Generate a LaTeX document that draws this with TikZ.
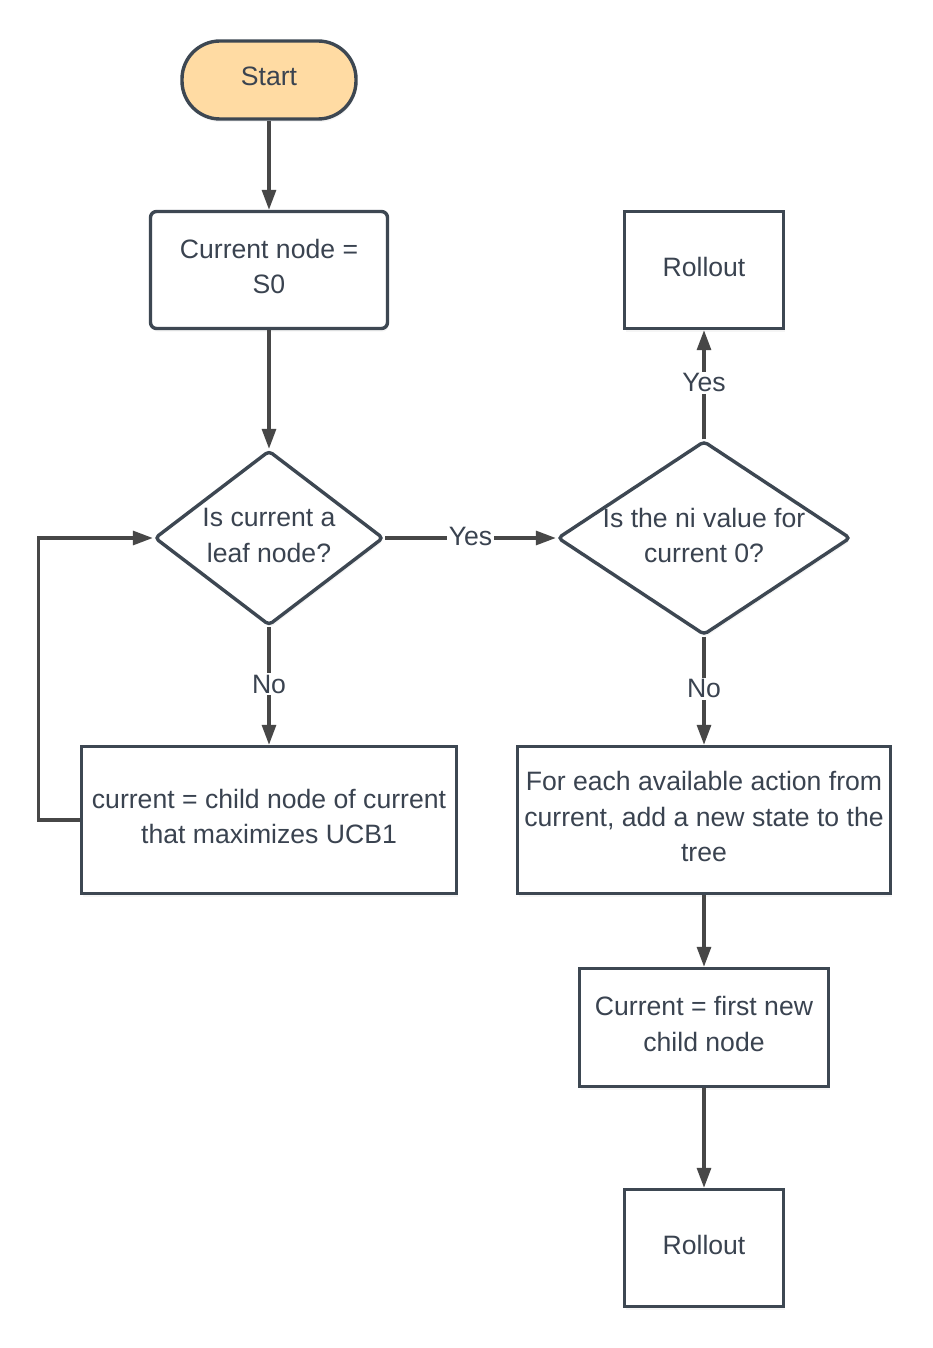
\documentclass[tikz,border=0pt]{standalone}
\usepackage{fontspec}
\setmainfont{Liberation Sans}
\usetikzlibrary{shapes.geometric,arrows.meta,shadows}
\definecolor{bord}{HTML}{3D4752}
\definecolor{arr}{HTML}{474747}
\definecolor{txt}{HTML}{3A4350}
\definecolor{startfill}{HTML}{FFDBA3}
\begin{document}
\begin{tikzpicture}[x=1pt,y=-1pt,
  txtfont/.style={font=\fontsize{26.6}{35.5}\selectfont, text=txt},
  boxtext/.style={txtfont, align=center, yshift=3.5pt},
  base/.style={draw=bord, line width=3.4pt, txtfont, align=center, inner sep=0pt, fill=white,
    drop shadow={opacity=0.08, shadow xshift=1pt, shadow yshift=-3pt}},
  procbox/.style={base, rectangle},
  decision/.style={base, diamond, rounded corners=4pt},
  conn/.style={draw=arr, line width=3.2pt, -{Triangle[length=20pt,width=14pt]}},
  lbl/.style={fill=white, txtfont, inner sep=1.5pt, yshift=2pt}
]
\path[use as bounding box, fill=white] (0,0) rectangle (932,1348);

\node[procbox, fill=startfill, minimum width=174pt, minimum height=78pt, rounded corners=38pt,
  label={[boxtext]center:Start}] (start) at (269,80) {};
\node[procbox, minimum width=237pt, minimum height=117pt, rounded corners=6pt,
  label={[boxtext]center:Current node =\\S0}] (cur0) at (269,270) {};
\node[decision, minimum width=229pt, minimum height=175pt,
  label={[boxtext, yshift=-1pt]center:Is current a\\leaf node?}] (d1) at (269,538) {};
\node[decision, minimum width=293pt, minimum height=194pt,
  label={[boxtext, yshift=-1pt]center:Is the ni value for\\current 0?}] (d2) at (704,538) {};
\node[procbox, minimum width=159pt, minimum height=117pt,
  label={[boxtext]center:Rollout}] (roll1) at (704,270) {};
\node[procbox, minimum width=375pt, minimum height=147pt,
  label={[boxtext]center:current = child node of current\\that maximizes UCB1}] (child) at (269,820) {};
\node[procbox, minimum width=373pt, minimum height=147pt,
  label={[boxtext]center:For each available action from\\current, add a new state to the\\tree}] (expand) at (704,820) {};
\node[procbox, minimum width=249pt, minimum height=118pt,
  label={[boxtext]center:Current = first new\\child node}] (first) at (704,1027.5) {};
\node[procbox, minimum width=159pt, minimum height=117pt,
  label={[boxtext]center:Rollout}] (roll2) at (704,1248) {};

\draw[conn] (start) -- (cur0);
\draw[conn] (cur0) -- (d1);
\draw[conn] (d1.south) -- node[lbl] {No} (child.north);
\draw[conn] (d1.east) -- node[lbl] {Yes} (d2.west);
\draw[conn] (d2.north) -- node[lbl] {Yes} (roll1.south);
\draw[conn] (d2.south) -- node[lbl] {No} (expand.north);
\draw[conn] (expand) -- (first);
\draw[conn] (first) -- (roll2);
\draw[conn] (child.west) -- ++(-41,0) |- (d1.west);
\end{tikzpicture}
\end{document}
